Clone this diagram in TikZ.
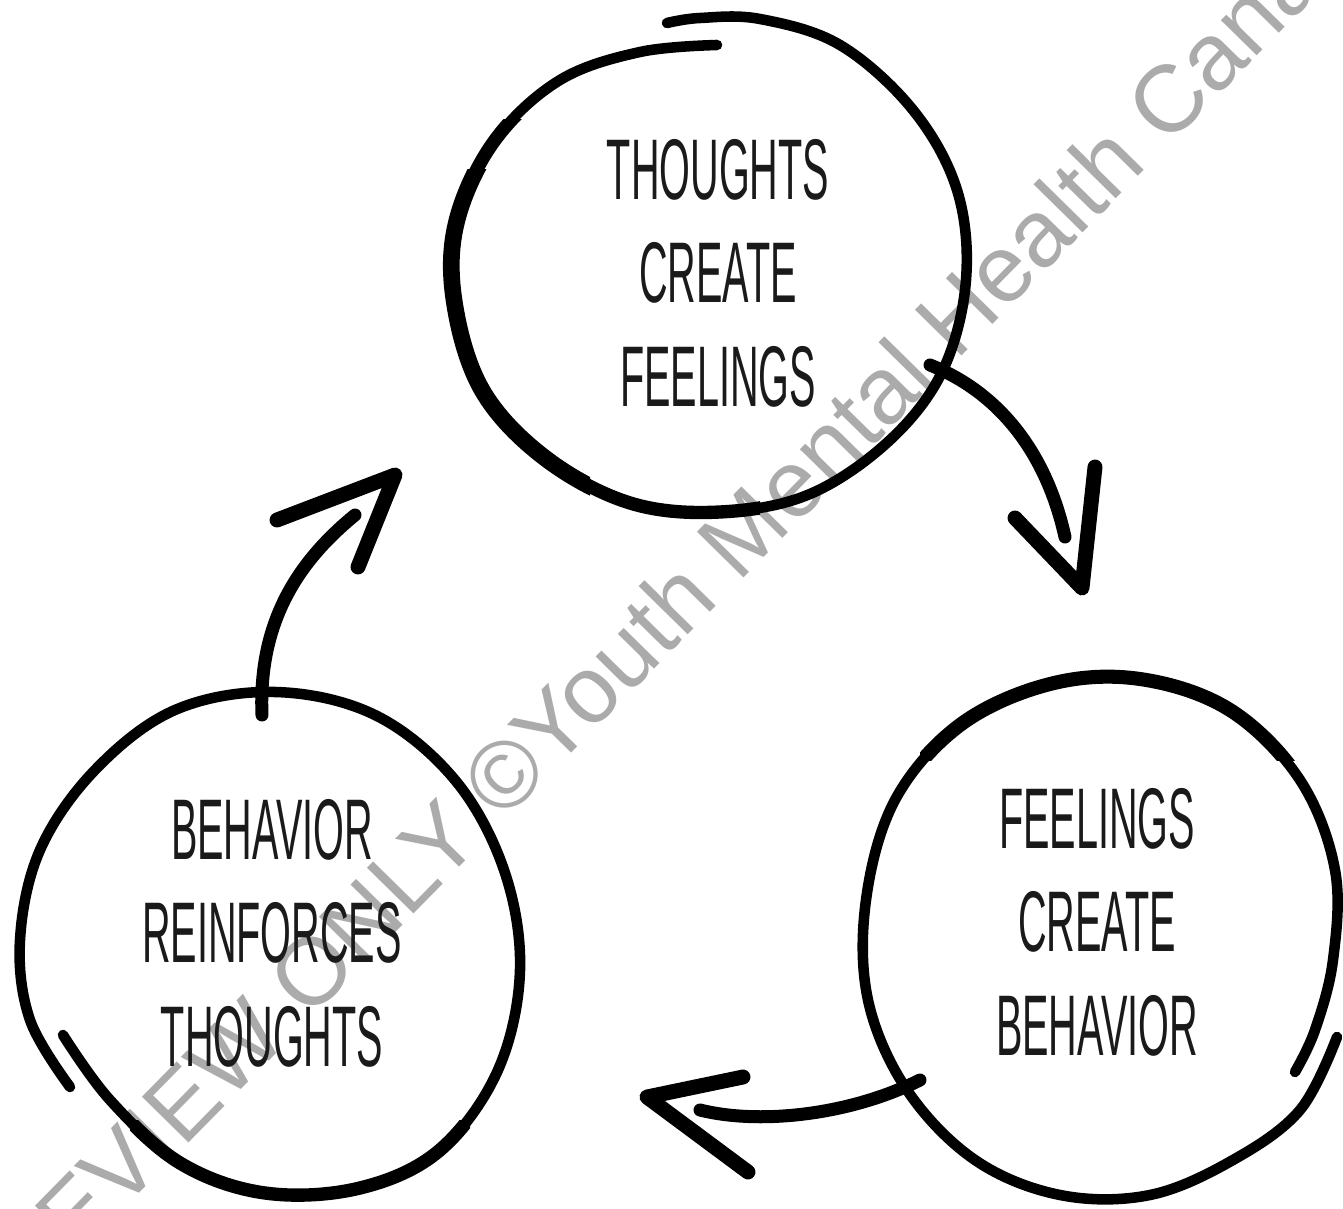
\documentclass[tikz,border=0pt]{standalone}
\usepackage{fontspec}
\setmainfont{Liberation Sans}
\usepackage{graphicx}

\definecolor{ink}{HTML}{1A1A1A}
\definecolor{wmgray}{HTML}{ABABAB}
\newcommand{\squeeze}[1]{\scalebox{0.46}[1]{#1}}

% hand drawn rings, kept as macros so parts can be redrawn thicker
\newcommand{\topring}{plot[smooth,tension=0.6] coordinates {(717,45) (640,52)
    (560,80) (495,140) (457,220) (454,300) (482,390) (545,458) (630,503)
    (720,512) (810,494) (890,440) (943,370) (966,280) (957,190) (913,110)
    (840,45) (760,19) (700,18) (667,23)}}
\newcommand{\leftring}{plot[smooth,tension=0.6] coordinates {(63,1035)
    (110,1100) (180,1163) (265,1193) (360,1188) (440,1150) (498,1070)
    (520,970) (504,870) (455,780) (375,715) (275,692) (175,710) (95,770)
    (40,850) (20,940) (30,1020) (70,1087)}}
\newcommand{\rightring}{plot[smooth,tension=0.6] coordinates {(1337,1037)
    (1300,1110) (1233,1160) (1150,1195) (1060,1195) (975,1160) (907,1090)
    (868,1000) (866,900) (895,800) (960,725) (1050,684) (1140,679)
    (1230,710) (1300,780) (1335,870) (1333,960) (1315,1030) (1295,1072)}}

\begin{document}
\begin{tikzpicture}[x=0.02cm,y=-0.02cm,
   ring/.style={line width=6pt,line cap=round,line join=round},
   shaft/.style={line width=7.4pt,line cap=round},
   barb/.style={line width=8.5pt,line cap=round,line join=round},
   caption/.style={font=\fontsize{49}{59}\selectfont,text=ink,inner sep=0pt},
   watermark/.style={font=\fontsize{54}{60}\selectfont,text=wmgray,rotate=45.5}
   ]

  \fill[white] (0,0) rectangle (1343,1209);
  \useasboundingbox (0,0) rectangle (1343,1209);

  % -- watermark, behind the drawing
  \node[watermark] at (668,607) (wm) {PREVIEW ONLY ©Youth Mental Health Canada};

  % -- rings
  \draw[ring] \topring;
  \draw[ring] \leftring;
  \draw[ring] \rightring;

  % -- heavier pen strokes
  \begin{scope}
    \clip (380,120) rectangle (760,600);
    \draw[ring,line width=7.6pt] \topring;
  \end{scope}
  \begin{scope}
    \clip (380,170) rectangle (590,600);
    \draw[ring,line width=9.5pt] \topring;
  \end{scope}
  \begin{scope}
    \clip (920,600) rectangle (1310,760);
    \draw[ring,line width=8pt] \rightring;
  \end{scope}
  \begin{scope}
    \clip (130,1120) rectangle (470,1230);
    \draw[ring,line width=7.6pt] \leftring;
  \end{scope}

  % -- texts
  \node[caption] at (718,282) (thoughts) {\squeeze{\begin{tabular}{c}THOUGHTS\\CREATE\\FEELINGS\end{tabular}}};
  \node[caption] at (1097,931) (feelings) {\squeeze{\begin{tabular}{c}FEELINGS\\CREATE\\BEHAVIOR\end{tabular}}};
  \node[caption] at (272,942) (behavior) {\squeeze{\begin{tabular}{c}BEHAVIOR\\REINFORCES\\THOUGHTS\end{tabular}}};

  % -- arrow ends
  \coordinate (tf-start) at (930,365);
  \coordinate (tf-end) at (1065,537);
  \coordinate (tf-tip) at (1082,588);
  \coordinate (fb-start) at (920,1080);
  \coordinate (fb-end) at (700,1110);
  \coordinate (fb-tip) at (647,1097);
  \coordinate (bt-start) at (262,715);
  \coordinate (bt-end) at (355,515);
  \coordinate (bt-tip) at (395,475);

  % -- arrows
  \draw[shaft] (tf-start) .. controls (1005,395) and (1048,460) .. (tf-end);
  \draw[barb] (1015,518) -- (tf-tip) -- (1095,467);

  \draw[shaft] (fb-start) .. controls (850,1115) and (760,1125) .. (fb-end);
  \draw[barb] (743,1077) -- (fb-tip) -- (748,1172);

  \draw[shaft] (bt-start) .. controls (258,620) and (300,560) .. (bt-end);
  \draw[barb] (277,520) -- (bt-tip) -- (358,567);

\end{tikzpicture}
\end{document}
